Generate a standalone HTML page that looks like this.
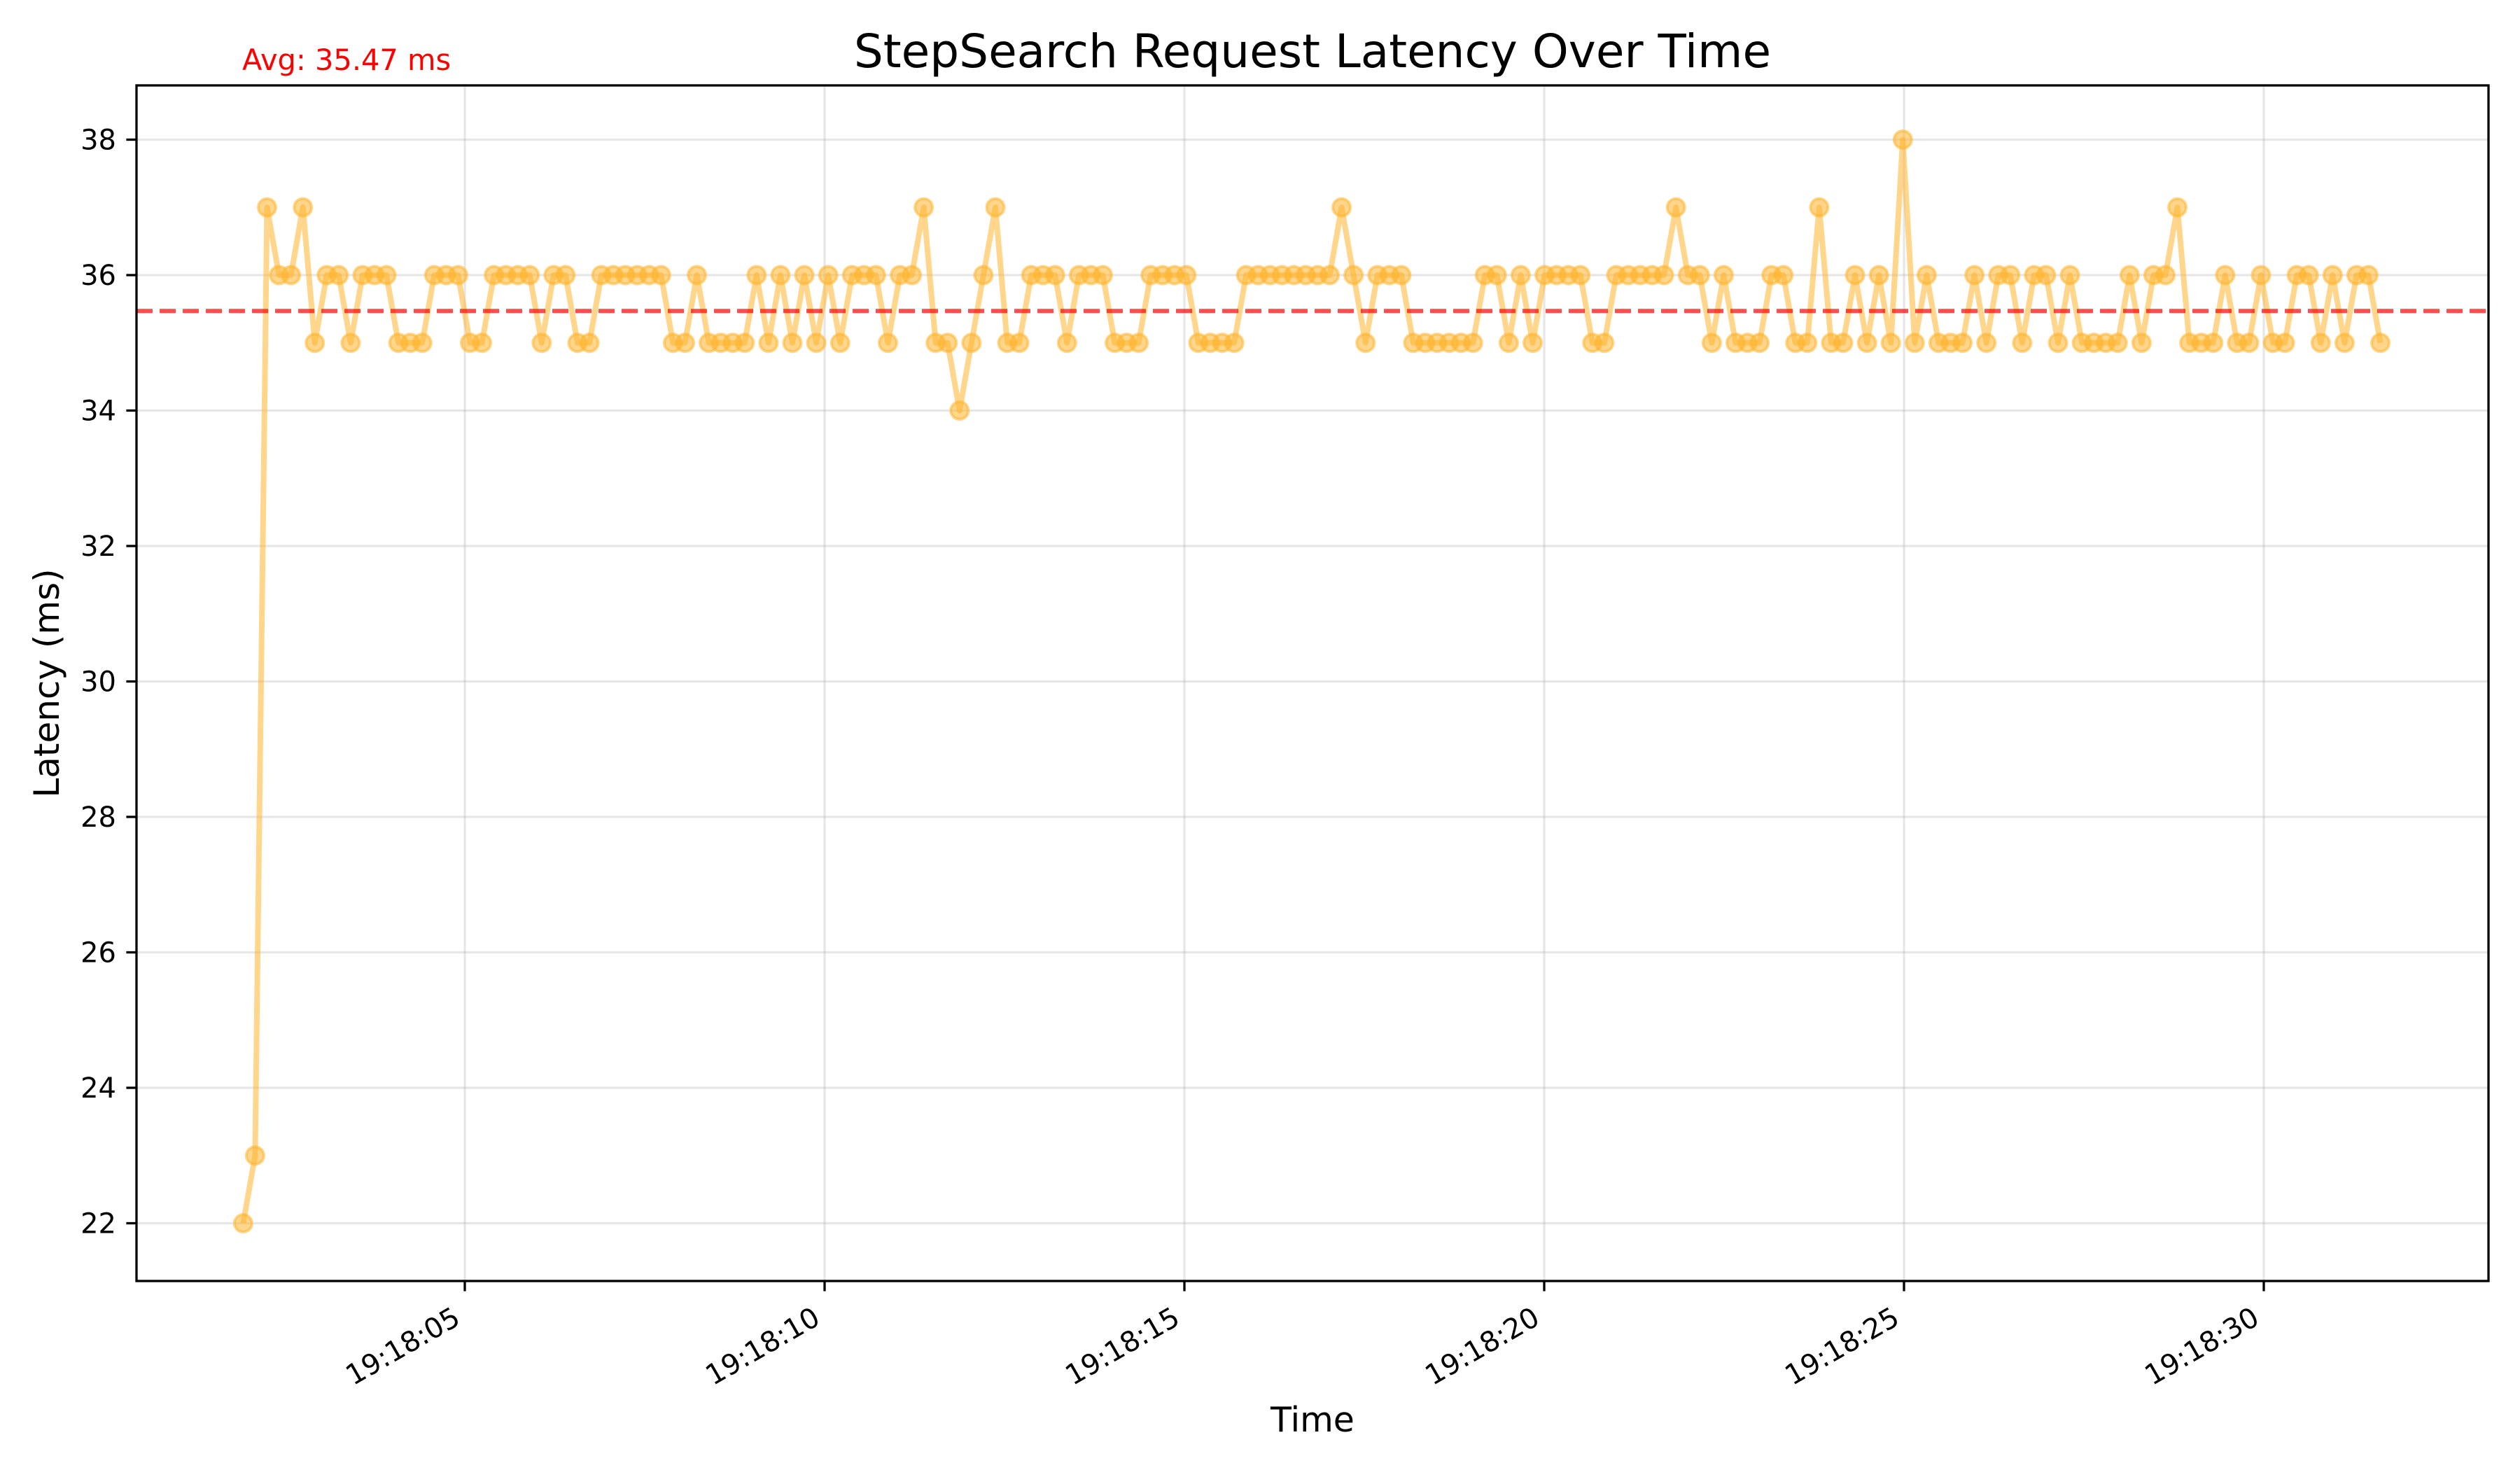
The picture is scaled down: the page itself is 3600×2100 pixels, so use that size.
<!DOCTYPE html>
<html><head><meta charset="utf-8"><style>
html,body{margin:0;padding:0;background:#fff;}
svg{display:block;font-family:"DejaVu Sans","Liberation Sans",sans-serif;}
</style></head><body>
<svg id="chart" width="3600" height="2100" viewBox="0 0 3600 2100" xmlns="http://www.w3.org/2000/svg">
<rect width="3600" height="2100" fill="#fff"/>
<g id="grid"></g>
<g id="series"></g>
<g id="axes"></g>
<text x="1875" y="96" font-size="66" text-anchor="middle" fill="#000">StepSearch Request Latency Over Time</text>
<text x="346" y="100" font-size="41.5" fill="#ff0000">Avg: 35.47 ms</text>
<text x="1875" y="2045" font-size="49" text-anchor="middle" fill="#000">Time</text>
<text transform="translate(84,976) rotate(-90)" font-size="50" text-anchor="middle" fill="#000">Latency (ms)</text>
</svg>
<script>
const latency = [22,23,37,36,36,37,35,36,36,35,
36,36,36,35,35,35,36,36,36,35,
35,36,36,36,36,35,36,36,35,35,
36,36,36,36,36,36,35,35,36,35,
35,35,35,36,35,36,35,36,35,36,
35,36,36,36,35,36,36,37,35,35,
34,35,36,37,35,35,36,36,36,35,
36,36,36,35,35,35,36,36,36,36,
35,35,35,35,36,36,36,36,36,36,
36,36,37,36,35,36,36,36,35,35,
35,35,35,35,36,36,35,36,35,36,
36,36,36,35,35,36,36,36,36,36,
37,36,36,35,36,35,35,35,36,36,
35,35,37,35,35,36,35,36,35,38,
35,36,35,35,35,36,35,36,36,35,
36,36,35,36,35,35,35,35,36,35,
36,36,37,35,35,35,36,35,35,36,
35,35,36,36,35,36,35,36,36,35];
const startSec = 1.92;
const endSec = 31.62;
const averageLatency = 35.47;
const yTicks = [22,24,26,28,30,32,34,36,38];
const xTickSecs = [5,10,15,20,25,30];
const xTickLabels = ["19:18:05","19:18:10","19:18:15","19:18:20","19:18:25","19:18:30"];

const L=195,R=3555,T=122,B=1830;
function xScale(t){return 664+(t-5)*102.8;}
function yScale(v){return 393-(v-36)*96.75;}
const NS="http://www.w3.org/2000/svg";
function mk(tag,attrs,parent){const e=document.createElementNS(NS,tag);for(const k in attrs)e.setAttribute(k,attrs[k]);parent.appendChild(e);return e;}
const grid=document.getElementById('grid'),series=document.getElementById('series'),axes=document.getElementById('axes');

yTicks.forEach(v=>{
  const y=yScale(v);
  const g=mk('line',{x1:L,x2:R,y1:y,y2:y,stroke:'#b0b0b0','stroke-opacity':0.3,'stroke-width':3.3},grid);
  
  
  const t=mk('line',{x1:L-14.6,x2:L,y1:y,y2:y,stroke:'#000','stroke-width':3.3},axes);
  
  
  const tx=mk('text',{x:L-29,y:y+14,'font-size':40,'text-anchor':'end',fill:'#000'},axes);
  tx.textContent=v;
  
  
});
xTickSecs.forEach((s,i)=>{
  const x=xScale(s);
  const g=mk('line',{x1:x,x2:x,y1:T,y2:B,stroke:'#b0b0b0','stroke-opacity':0.3,'stroke-width':3.3},grid);
  
  
  const t=mk('line',{x1:x,x2:x,y1:B,y2:B+14.6,stroke:'#000','stroke-width':3.3},axes);
  
  
  const tx=mk('text',{transform:`translate(${x-4},${B+60}) rotate(-30)`,'font-size':40,'text-anchor':'end',fill:'#000'},axes);
  tx.textContent=xTickLabels[i];
  
  
});

const n=latency.length;
const step=(endSec-startSec)/(n-1);
const pts=latency.map((v,i)=>[xScale(startSec+i*step),yScale(v)]);
const line=mk('polyline',{points:pts.map(p=>p.join(',')).join(' '),fill:'none',stroke:'#ffb52e','stroke-opacity':0.55,'stroke-width':8,'stroke-linejoin':'round'},series);


pts.forEach(p=>{
  const c=mk('circle',{cx:p[0],cy:p[1],r:12.5,fill:'#ffb52e','fill-opacity':0.55,stroke:'#ffb52e','stroke-opacity':0.55,'stroke-width':4},series);
  
  
});
const ay=yScale(averageLatency);
const avg=mk('line',{x1:L,x2:R,y1:ay,y2:ay,stroke:'#ff0000','stroke-opacity':0.7,'stroke-width':6,'stroke-dasharray':'23 10'},series);



const frame=mk('rect',{x:L,y:T,width:R-L,height:B-T,fill:'none',stroke:'#000','stroke-width':3.3},axes);


</script>
</body></html>
